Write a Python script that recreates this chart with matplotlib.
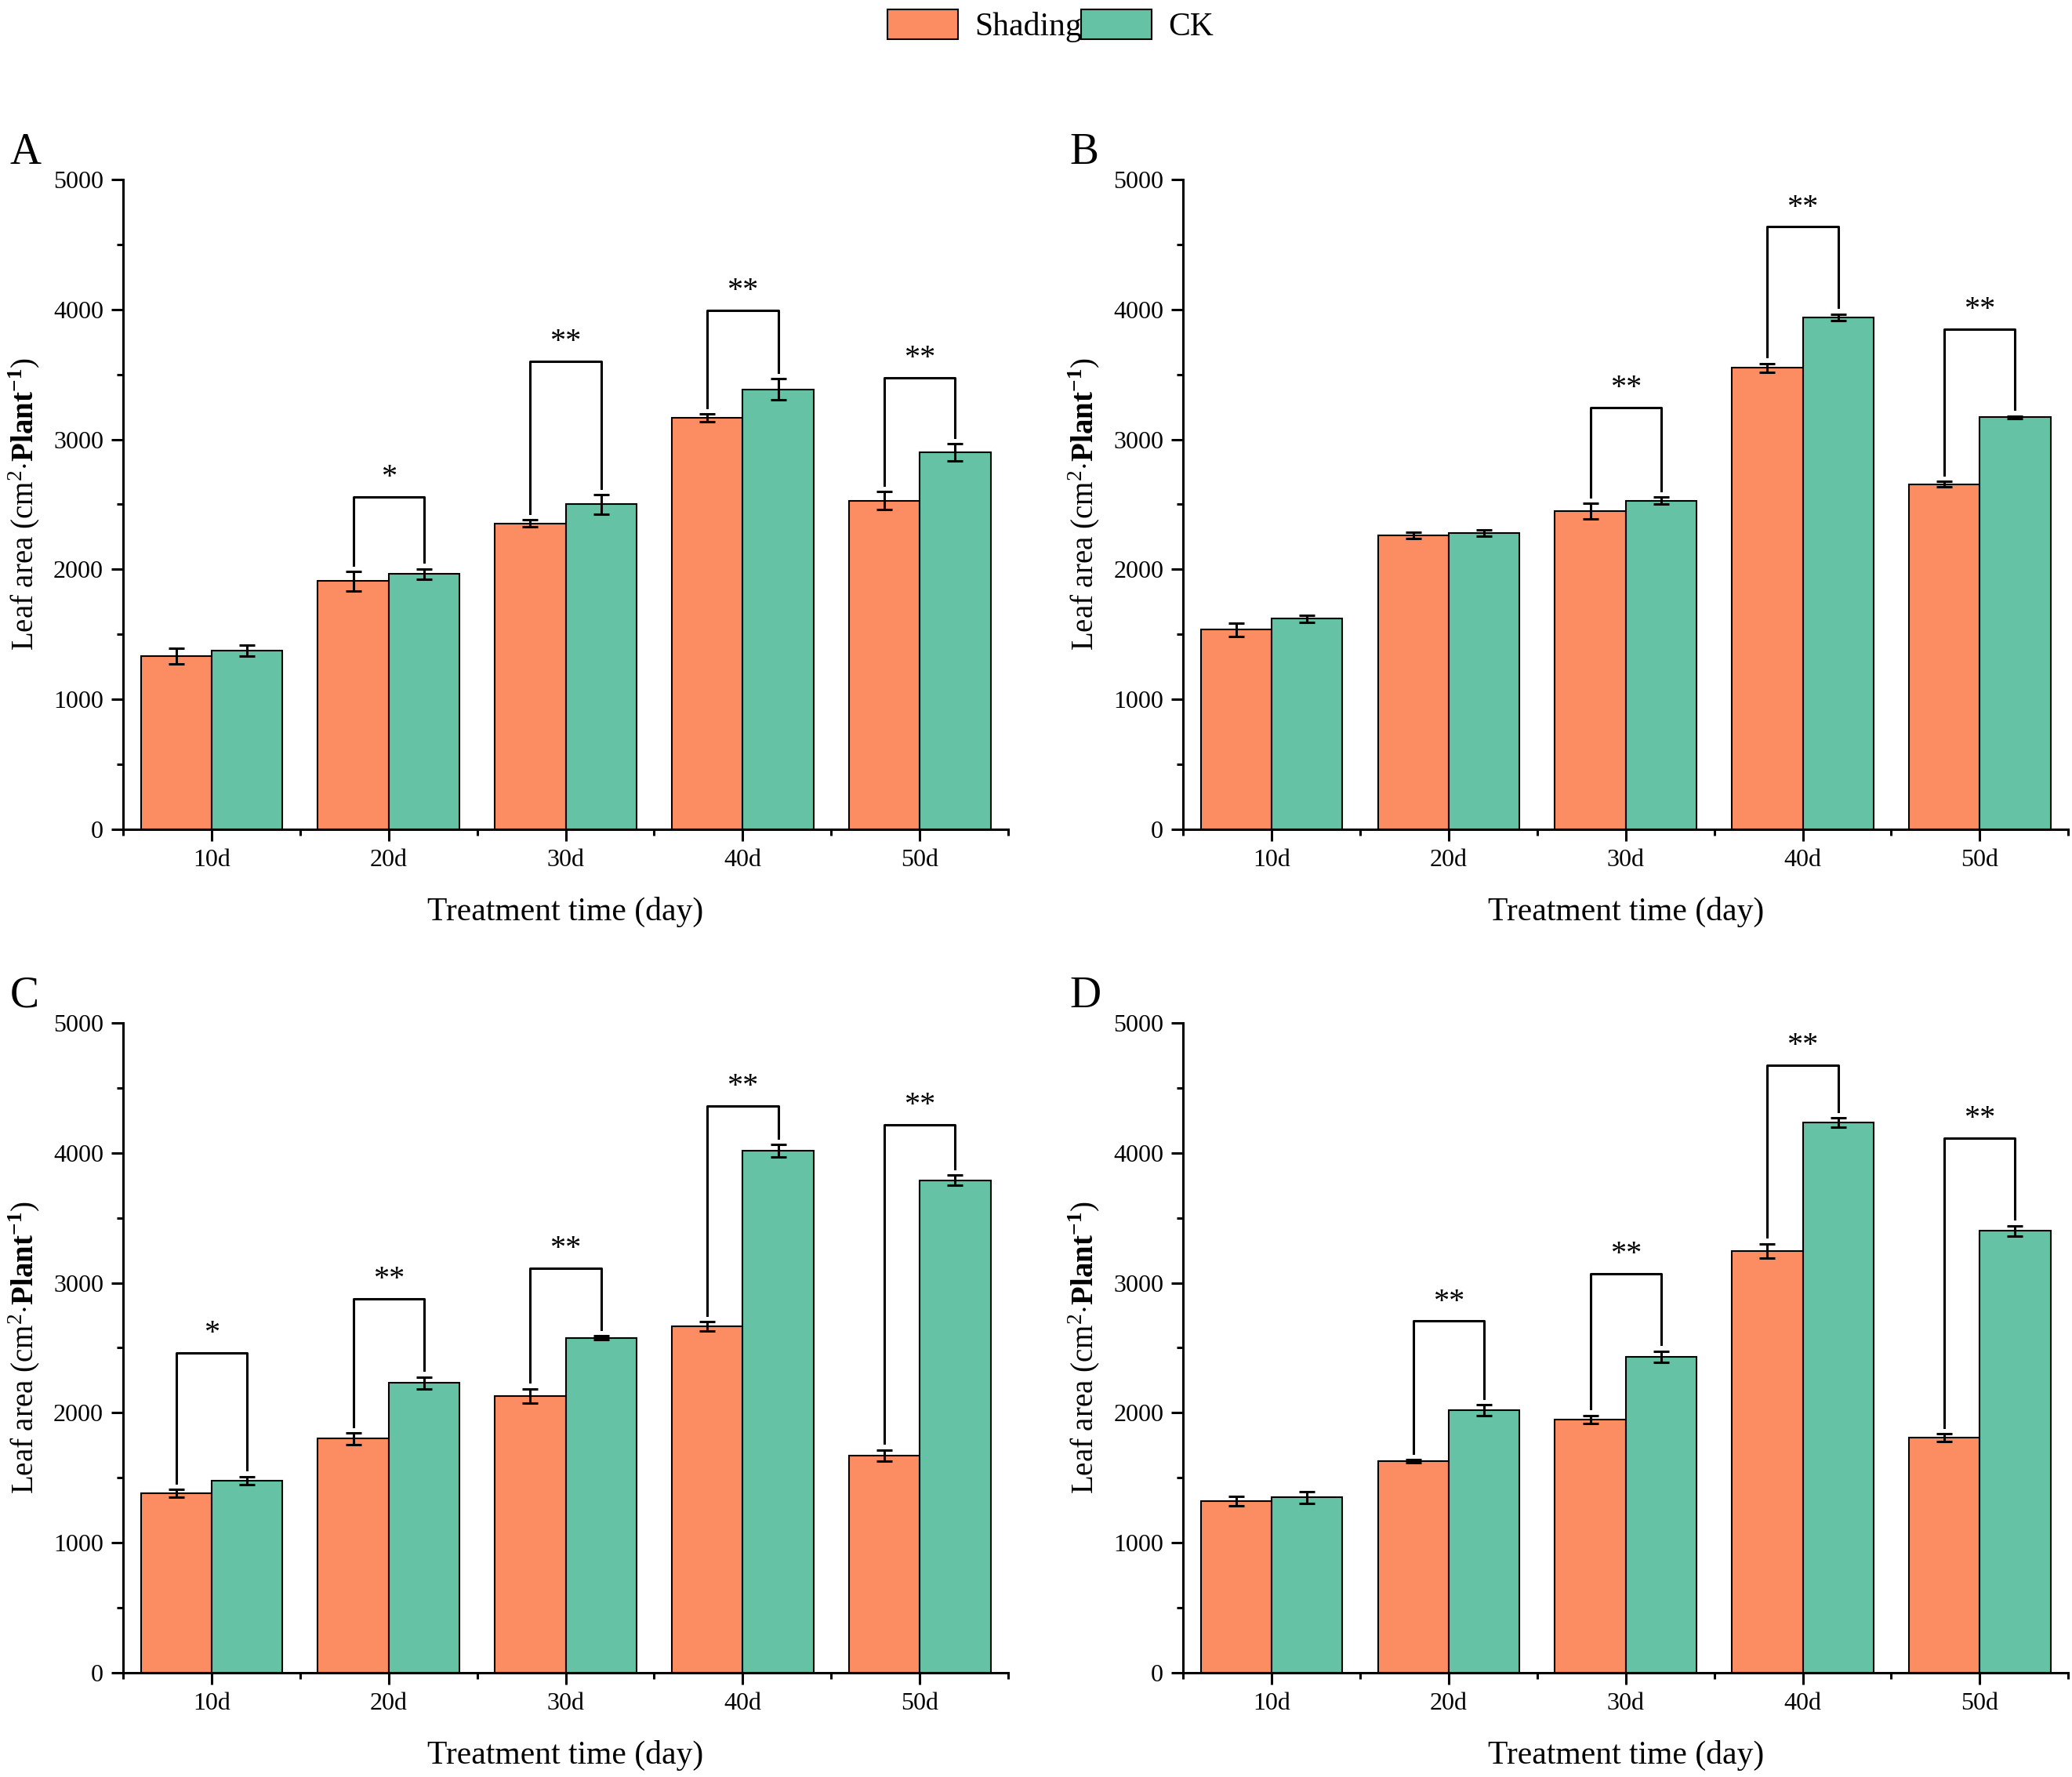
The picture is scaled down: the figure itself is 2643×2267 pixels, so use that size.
import numpy as np
import matplotlib
matplotlib.use("Agg")
import matplotlib.pyplot as plt
from matplotlib.patches import Patch
from matplotlib.ticker import MultipleLocator, FixedLocator

plt.rcParams['font.family'] = ['Liberation Serif', 'DejaVu Serif']
plt.rcParams['mathtext.fontset'] = 'custom'
plt.rcParams['mathtext.rm'] = 'Liberation Serif'
plt.rcParams['mathtext.bf'] = 'Liberation Serif:bold'

days = ["10d", "20d", "30d", "40d", "50d"]
panels = ["A", "B", "C", "D"]

shading = {
    "A": [1335, 1910, 2355, 3165, 2530],
    "B": [1535, 2260, 2450, 3550, 2655],
    "C": [1380, 1800, 2130, 2665, 1670],
    "D": [1320, 1625, 1950, 3245, 1810],
}
shading_err = {
    "A": [60, 75, 25, 30, 70],
    "B": [50, 25, 60, 35, 20],
    "C": [30, 45, 55, 35, 45],
    "D": [35, 12, 30, 55, 30],
}
ck = {
    "A": [1375, 1965, 2500, 3385, 2900],
    "B": [1620, 2280, 2530, 3940, 3170],
    "C": [1480, 2230, 2575, 4015, 3790],
    "D": [1350, 2020, 2430, 4235, 3400],
}
ck_err = {
    "A": [40, 40, 75, 80, 65],
    "B": [25, 25, 25, 25, 10],
    "C": [30, 45, 15, 50, 40],
    "D": [45, 40, 45, 35, 40],
}
# significance marks: (day index, bracket height, label)
sig = {
    "A": [(1, 2560, "*"), (2, 3600, "**"), (3, 3995, "**"), (4, 3475, "**")],
    "B": [(2, 3245, "**"), (3, 4635, "**"), (4, 3850, "**")],
    "C": [(0, 2460, "*"), (1, 2875, "**"), (2, 3110, "**"), (3, 4360, "**"), (4, 4215, "**")],
    "D": [(1, 2705, "**"), (2, 3070, "**"), (3, 4675, "**"), (4, 4115, "**")],
}

c_shade = "#FC8D62"
c_ck = "#66C2A5"

fig = plt.figure(figsize=(26.43, 22.67), dpi=100)
boxes = {
    "A": [0.0594, 0.5333, 0.4272, 0.3657],
    "B": [0.5710, 0.5333, 0.4272, 0.3657],
    "C": [0.0594, 0.0587, 0.4272, 0.3657],
    "D": [0.5710, 0.0587, 0.4272, 0.3657],
}

x = np.arange(len(days))
w = 0.4
for p in panels:
    ax = fig.add_axes(boxes[p])
    s = np.array(shading[p])
    c = np.array(ck[p])
    se = np.array(shading_err[p])
    ce = np.array(ck_err[p])
    ax.bar(x - w / 2, s, w, color=c_shade, edgecolor="black", linewidth=1.5, zorder=2)
    ax.bar(x + w / 2, c, w, color=c_ck, edgecolor="black", linewidth=1.5, zorder=2)
    ax.errorbar(x - w / 2, s, yerr=se, fmt="none", ecolor="black", elinewidth=2.2,
                capsize=7, capthick=2.2, zorder=3)
    ax.errorbar(x + w / 2, c, yerr=ce, fmt="none", ecolor="black", elinewidth=2.2,
                capsize=7, capthick=2.2, zorder=3)
    for i, h, lab in sig[p]:
        x0, x1 = i - w / 2, i + w / 2
        y0 = s[i] + se[i] + 50
        y1 = c[i] + ce[i] + 50
        ax.plot([x0, x0, x1, x1], [y0, h, h, y1], color="black", lw=2.2, zorder=4)
        ax.text(i, h + 35, lab, ha="center", va="bottom", fontsize=29)

    ax.set_xlim(-0.5, 4.5)
    ax.set_ylim(0, 5000)
    ax.set_xticks(x)
    ax.set_xticklabels(days)
    ax.xaxis.set_minor_locator(FixedLocator(np.arange(-0.5, 5, 1)))
    ax.yaxis.set_major_locator(MultipleLocator(1000))
    ax.yaxis.set_minor_locator(MultipleLocator(500))
    ax.tick_params(which="major", direction="out", length=11, width=2.2, labelsize=23, pad=7)
    ax.tick_params(which="minor", direction="out", length=6, width=2.2)
    for sp in ["top", "right"]:
        ax.spines[sp].set_visible(False)
    for sp in ["left", "bottom"]:
        ax.spines[sp].set_linewidth(2.2)
    ax.set_xlabel("Treatment time (day)", fontsize=30, labelpad=23)
    ax.set_ylabel(r"Leaf area (cm$^{2}$$\cdot$$\mathbf{Plant}^{\mathbf{-1}}$)", fontsize=28, labelpad=10)
    ax.text(-0.128, 1.01, p, transform=ax.transAxes, fontsize=40, ha="left", va="bottom")

handles = [Patch(facecolor=c_shade, edgecolor="black", linewidth=1.5, label="Shading"),
           Patch(facecolor=c_ck, edgecolor="black", linewidth=1.5, label="CK")]
fig.legend(handles=handles, loc="upper center", bbox_to_anchor=(0.507, 1.004), ncol=2,
           frameon=False, fontsize=30, handlelength=2.15, handleheight=1.05,
           columnspacing=0.0, handletextpad=0.5, borderaxespad=0.1)

fig.savefig("out.png", dpi=100)
